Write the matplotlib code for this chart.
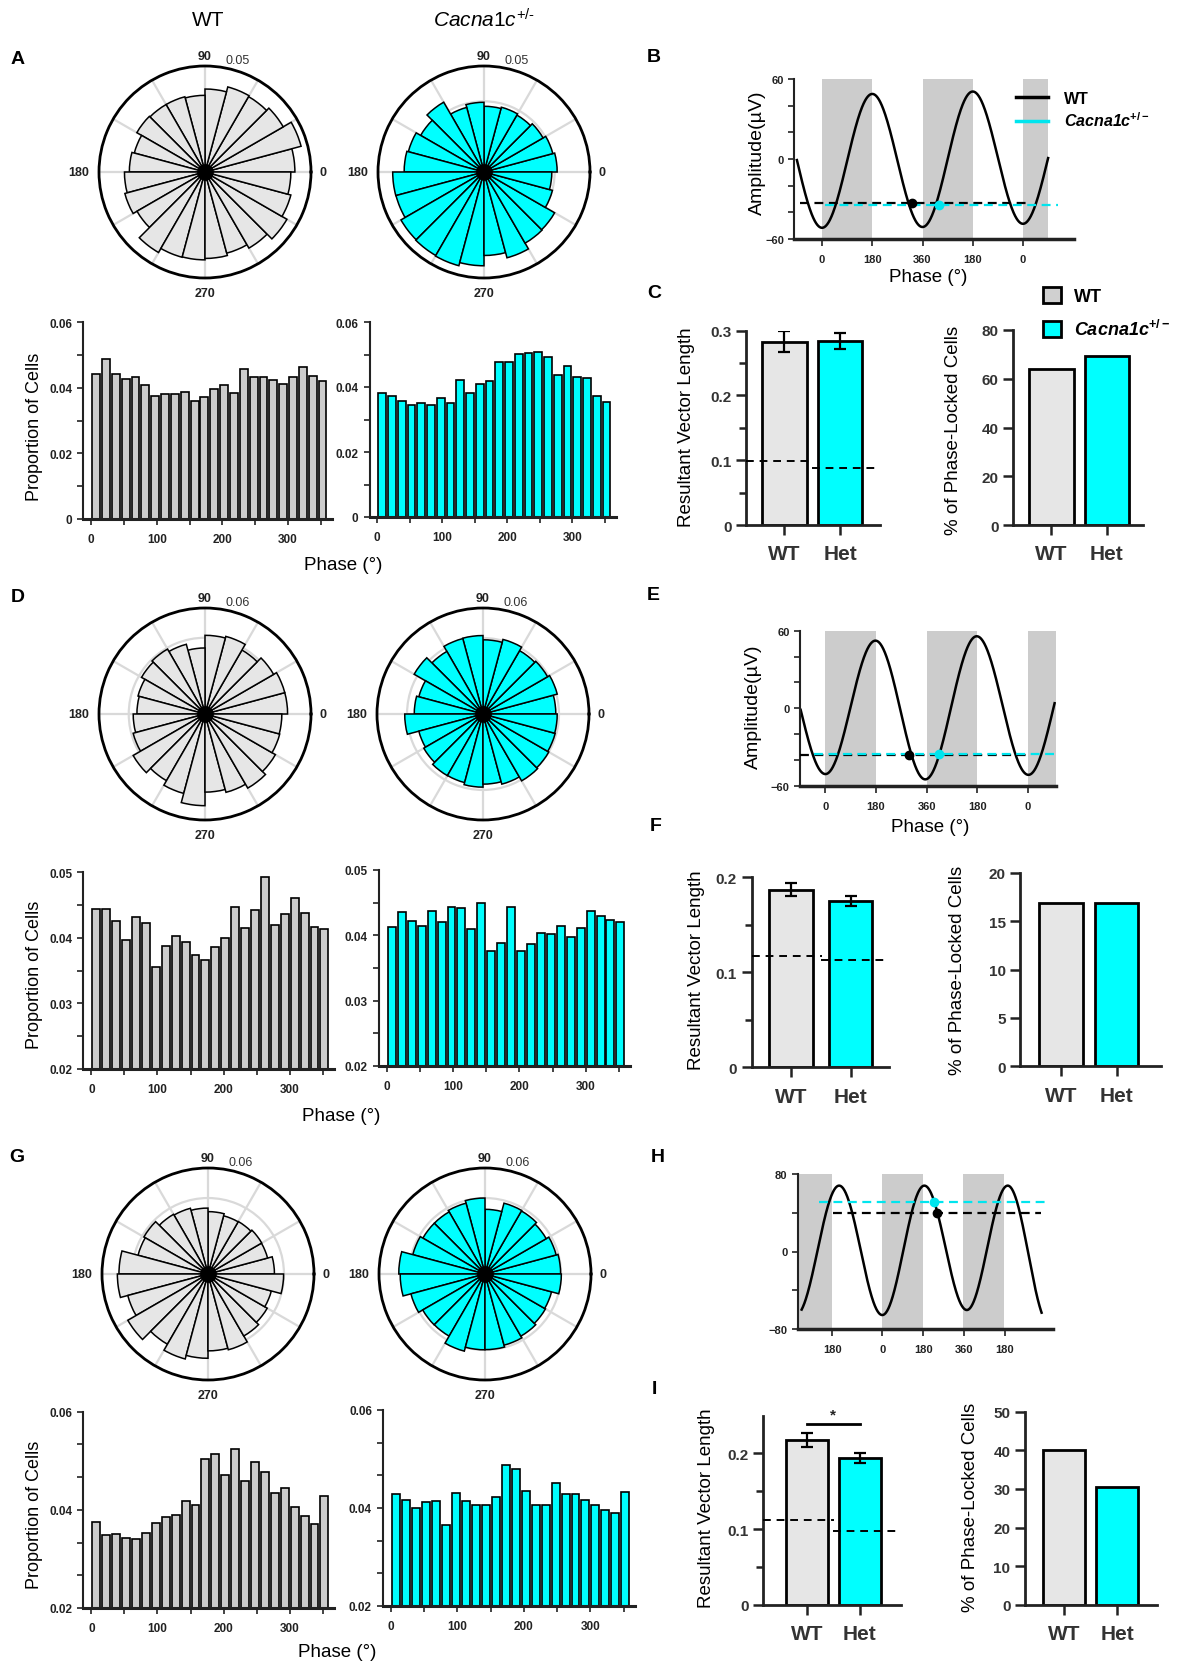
import numpy as np
import matplotlib
matplotlib.use('Agg')
import matplotlib.pyplot as plt
from matplotlib.ticker import FixedLocator, MultipleLocator, AutoMinorLocator
from matplotlib.lines import Line2D
from matplotlib.patches import Patch

plt.rcParams['font.family'] = ['Liberation Sans', 'DejaVu Sans']
plt.rcParams['mathtext.fontset'] = 'custom'
plt.rcParams['mathtext.rm'] = 'Liberation Sans'
plt.rcParams['mathtext.it'] = 'Liberation Sans:italic'
plt.rcParams['mathtext.bf'] = 'Liberation Sans:bold'
plt.rcParams['mathtext.bfit'] = 'Liberation Sans:italic:bold'

# ---- data ----
bin_centers = np.arange(7.5, 360, 15)   # 24 phase bins of 15 deg

wt_a = [0.0441, 0.0488, 0.0443, 0.0427, 0.0432, 0.0407, 0.0376, 0.0382, 0.0382, 0.0386, 0.0359, 0.0371,
        0.0395, 0.0407, 0.0385, 0.0456, 0.0433, 0.0431, 0.0424, 0.0412, 0.0431, 0.0464, 0.0436, 0.0421]
het_a = [0.0383, 0.0373, 0.0357, 0.0344, 0.0351, 0.0344, 0.0365, 0.0350, 0.0422, 0.0383, 0.0410, 0.0418,
         0.0478, 0.0477, 0.0502, 0.0505, 0.0508, 0.0491, 0.0437, 0.0465, 0.0430, 0.0427, 0.0371, 0.0355]
wt_d = [0.0444, 0.0444, 0.0426, 0.0397, 0.0432, 0.0423, 0.0355, 0.0388, 0.0403, 0.0394, 0.0373, 0.0366,
        0.0386, 0.0400, 0.0446, 0.0414, 0.0442, 0.0493, 0.0420, 0.0436, 0.0460, 0.0437, 0.0416, 0.0413]
het_d = [0.0412, 0.0435, 0.0422, 0.0414, 0.0437, 0.0420, 0.0444, 0.0442, 0.0409, 0.0450, 0.0376, 0.0389,
         0.0443, 0.0376, 0.0387, 0.0403, 0.0402, 0.0414, 0.0397, 0.0411, 0.0437, 0.0430, 0.0423, 0.0420]
wt_g = [0.0376, 0.0349, 0.0351, 0.0343, 0.0341, 0.0353, 0.0373, 0.0385, 0.0390, 0.0419, 0.0410, 0.0504,
        0.0513, 0.0470, 0.0524, 0.0459, 0.0498, 0.0477, 0.0435, 0.0444, 0.0405, 0.0387, 0.0371, 0.0428]
het_g = [0.0428, 0.0417, 0.0400, 0.0412, 0.0415, 0.0366, 0.0430, 0.0415, 0.0406, 0.0406, 0.0423, 0.0488,
         0.0480, 0.0434, 0.0407, 0.0406, 0.0452, 0.0429, 0.0428, 0.0417, 0.0406, 0.0395, 0.0390, 0.0432]

# schematic theta waves: extrema (phase, amplitude)
b_ext_x = [-180, 0, 180, 360, 540, 720, 900]
b_ext_y = [50, -51.6, 48.8, -51, 50.6, -48.6, 50]
e_ext_x = [-180, 0, 178, 355, 538, 722, 900]
e_ext_y = [52, -51, 52.3, -55.1, 55.7, -51.6, 52]
h_ext_x = [-380, -190, 0, 185, 372, 552, 735]
h_ext_y = [-65.6, 68, -65.6, 68, -60.4, 68, -75]

# mean phase lines (level, start, end) and dots (phase, level)
b_wt_line, b_het_line = (-33, -80, 730), (-34.5, 10, 845)
b_wt_dot, b_het_dot = (322, -33), (420, -34.5)
e_wt_line, e_het_line = (-36, -90, 720), (-35.5, -40, 820)
e_wt_dot, e_het_dot = (299, -36), (403, -35.5)
h_wt_line, h_het_line = (39.7, -217, 697), (50.8, -277, 732)
h_wt_dot, h_het_dot = (239, 39.7), (227, 50.8)

groups = ['WT', 'Het']
c_rvl, c_rvl_err, c_rvl_thr = [0.283, 0.284], [0.016, 0.013], [0.0983, 0.088]
c_pct = [64.0, 69.5]
f_rvl, f_rvl_err, f_rvl_thr = [0.187, 0.175], [0.007, 0.0056], [0.1175, 0.113]
f_pct = [16.9, 16.86]
i_rvl, i_rvl_err, i_rvl_thr = [0.2176, 0.1934], [0.0097, 0.0066], [0.1123, 0.0978]
i_pct = [40.2, 30.5]

WT_POLAR = '#e6e6e6'
WT_HIST = '#cccccc'
HET = '#00ffff'
HET_LINE = '#00e5ee'
SHADE = '#cccccc'
TXT = '#222222'

W, H = 1178, 1665
fig = plt.figure(figsize=(W / 100, H / 100), dpi=100)


def px_axes(l, t, r, b, **kw):
    return fig.add_axes([l / W, 1 - b / H, (r - l) / W, (b - t) / H], **kw)


def ftext(x, y, s, **kw):
    fig.text(x / W, 1 - y / H, s, **kw)


def style_cart(ax, lw_left=1.5, lw_bottom=2.2):
    for s in ['top', 'right']:
        ax.spines[s].set_visible(False)
    ax.spines['left'].set_linewidth(lw_left)
    ax.spines['bottom'].set_linewidth(lw_bottom)
    ax.spines['left'].set_color(TXT)
    ax.spines['bottom'].set_color(TXT)


def polar(cx, cy, vals, color, rmax, ring, rlabel):
    R = 106
    ax = px_axes(cx - R, cy - R, cx + R, cy + R, projection='polar')
    ax.set_axisbelow(True)
    ax.bar(np.deg2rad(bin_centers), vals, width=np.deg2rad(15), color=color,
           edgecolor='black', linewidth=1.1, zorder=2)
    ax.plot(0, 0, 'o', color='black', ms=11, zorder=3)
    ax.set_ylim(0, rmax)
    ax.set_yticks([ring])
    ax.set_yticklabels([])
    ax.set_xticks(np.deg2rad(np.arange(0, 360, 30)))
    ax.set_xticklabels([])
    ax.grid(True, color='#d9d9d9', lw=1.6)
    ax.spines['polar'].set_linewidth(2)
    ax.spines['polar'].set_color('black')
    for txt, ang, rr in [('90', 90, 1.095), ('180', 180, 1.19), ('0', 0, 1.11), ('270', 270, 1.14)]:
        ax.text(np.deg2rad(ang), rmax * rr, txt, ha='center', va='center',
                fontsize=9, fontweight='bold', color=TXT)
    ax.text(np.deg2rad(73.5), rmax * 1.10, rlabel, ha='center', va='center',
            fontsize=9, color='#333333')


def hist(l, t, r, b, vals, color, ylim, yticks, ylabels, nminor):
    ax = px_axes(l, t, r, b)
    ax.bar(bin_centers, vals, width=12, color=color, edgecolor='black', linewidth=1.2)
    ax.set_xlim(-12, 367)
    ax.set_ylim(*ylim)
    ax.set_yticks(yticks)
    ax.set_yticklabels(ylabels)
    ax.yaxis.set_minor_locator(AutoMinorLocator(nminor))
    ax.set_xticks([0, 100, 200, 300])
    ax.xaxis.set_minor_locator(MultipleLocator(50))
    style_cart(ax)
    ax.tick_params(which='both', direction='out', width=1.2, color=TXT, length=4)
    ax.tick_params(axis='y', pad=4)
    ax.tick_params(axis='x', pad=6)
    for lab in ax.get_xticklabels() + ax.get_yticklabels():
        lab.set_fontsize(8.5)
        lab.set_fontweight('bold')
        lab.set_color(TXT)
    return ax


def wave(ext_x, ext_y, x0, x1):
    xs = np.linspace(x0, x1, 800)
    ys = np.zeros_like(xs)
    for i in range(len(ext_x) - 1):
        m = (xs >= ext_x[i]) & (xs <= ext_x[i + 1])
        tt = (xs[m] - ext_x[i]) / (ext_x[i + 1] - ext_x[i])
        ys[m] = ext_y[i] + (ext_y[i + 1] - ext_y[i]) * (1 - np.cos(np.pi * tt)) / 2
    return xs, ys


def wave_panel(box, xlim, ylim, shades, ext_x, ext_y, span, wt_line, het_line,
               wt_dot, het_dot, xticks, xlabels, ymajor, yminor):
    ax = px_axes(*box)
    for a, b_ in shades:
        ax.axvspan(a, b_, color=SHADE, lw=0, zorder=0)
    xs, ys = wave(ext_x, ext_y, *span)
    ax.plot(xs, ys, color='black', lw=1.8, zorder=2)
    ax.plot([wt_line[1], wt_line[2]], [wt_line[0]] * 2, color='black', lw=1.6,
            dashes=(4, 2.5), zorder=3)
    ax.plot([het_line[1], het_line[2]], [het_line[0]] * 2, color=HET_LINE, lw=1.6,
            dashes=(4, 2.5), zorder=3, clip_on=False)
    ax.plot(*wt_dot, 'o', color='black', ms=6, zorder=4)
    ax.plot(*het_dot, 'o', color=HET_LINE, ms=6, zorder=4)
    ax.set_xlim(*xlim)
    ax.set_ylim(*ylim)
    ax.set_xticks(xticks)
    ax.set_xticklabels(xlabels)
    ax.set_yticks(ymajor)
    ax.yaxis.set_minor_locator(FixedLocator(yminor))
    style_cart(ax, 1.5, 2.5)
    ax.tick_params(which='both', direction='out', width=1.2, color=TXT, length=4)
    ax.tick_params(axis='x', length=5, pad=6)
    for lab in ax.get_xticklabels() + ax.get_yticklabels():
        lab.set_fontsize(8)
        lab.set_fontweight('bold')
        lab.set_color(TXT)
    return ax


def bar_panel(box, vals, width, xlim, ylim, yticks, ylabels, yminor=None,
              errs=None, thr=None, sig=None):
    ax = px_axes(*box)
    ax.bar([0, 1], vals, width=width, color=[WT_POLAR, HET], edgecolor='black',
           linewidth=2, zorder=2)
    if errs is not None:
        ax.errorbar([0, 1], vals, yerr=errs, fmt='none', ecolor='black', elinewidth=1.6,
                    capsize=4, capthick=1.6, zorder=3)
    if thr is not None:
        ax.plot([xlim[0], 0.52], [thr[0]] * 2, color='black', lw=1.4, dashes=(4, 3), zorder=4)
        ax.plot([0.5, xlim[1]], [thr[1]] * 2, color='black', lw=1.4, dashes=(4, 3), zorder=4)
    if sig is not None:
        ax.plot([0, 1], [sig, sig], color='black', lw=2, clip_on=False)
        ax.text(0.5, sig + 0.003, '*', ha='center', va='bottom', fontsize=11,
                fontweight='bold', color=TXT)
    ax.set_xlim(*xlim)
    ax.set_ylim(*ylim)
    ax.set_xticks([0, 1])
    ax.set_xticklabels(groups)
    ax.set_yticks(yticks)
    ax.set_yticklabels(ylabels)
    if yminor is not None:
        ax.yaxis.set_minor_locator(FixedLocator(yminor))
    style_cart(ax, 2, 2)
    ax.tick_params(which='major', direction='out', width=1.8, color=TXT, length=7)
    ax.tick_params(which='minor', direction='out', width=1.8, color=TXT, length=5)
    ax.tick_params(axis='x', pad=7)
    for lab in ax.get_yticklabels():
        lab.set_fontsize(11)
        lab.set_fontweight('bold')
        lab.set_color('#333333')
    for lab in ax.get_xticklabels():
        lab.set_fontsize(15)
        lab.set_fontweight('bold')
        lab.set_color('#333333')
    return ax


# ---- headers and panel letters ----
ftext(208, 20, 'WT', fontsize=15, ha='center', va='center')
ftext(484, 20, r'$\mathit{Cacna1c}^{\text{+/-}}$', fontsize=15, ha='center', va='center')
for letter, x, y in [('A', 18, 60), ('B', 654, 58), ('C', 654, 293), ('D', 18, 598),
                     ('E', 653, 595), ('F', 656, 827), ('G', 17, 1158), ('H', 658, 1158),
                     ('I', 654, 1390)]:
    ftext(x, y, letter, fontsize=14, fontweight='bold', ha='center', va='center')

# ---- polar plots ----
polar(205, 173, wt_a, WT_POLAR, 0.052, 0.035, '0.05')
polar(484, 173, het_a, HET, 0.0555, 0.037, '0.05')
polar(205, 715, wt_d, WT_POLAR, 0.057, 0.041, '0.06')
polar(483, 715, het_d, HET, 0.06, 0.043, '0.06')
polar(208, 1275, wt_g, WT_POLAR, 0.06, 0.043, '0.06')
polar(485, 1275, het_g, HET, 0.06, 0.043, '0.06')

# ---- phase histograms ----
a_ticks, a_lab = [0, 0.02, 0.04, 0.06], ['0', '0.02', '0.04', '0.06']
hist(83.4, 323, 332, 520, wt_a, WT_HIST, (0, 0.06), a_ticks, a_lab, 2)
hist(369.5, 323, 616, 518, het_a, HET, (0, 0.06), a_ticks, a_lab, 2)
d_ticks, d_lab = [0.02, 0.03, 0.04, 0.05], ['0.02', '0.03', '0.04', '0.05']
hist(83.4, 873, 334, 1070, wt_d, WT_HIST, (0.02, 0.05), d_ticks, d_lab, 2)
hist(379, 871, 630, 1067, het_d, HET, (0.02, 0.05), d_ticks, d_lab, 2)
g_ticks, g_lab = [0.02, 0.04, 0.06], ['0.02', '0.04', '0.06']
hist(83.4, 1412.7, 334, 1609, wt_g, WT_HIST, (0.02, 0.06), g_ticks, g_lab, 3)
hist(383, 1411, 635, 1607, het_g, HET, (0.02, 0.06), g_ticks, g_lab, 3)

for y in [427, 975, 1515]:
    ftext(35, y, 'Proportion of Cells', fontsize=13, rotation=90, ha='center', va='center')
for x, y in [(343, 565), (341, 1117), (337, 1653)]:
    ftext(x, y, 'Phase (°)', fontsize=13.5, ha='center', va='center')

# ---- waveform panels ----
ph_ticks = [0, 180, 360, 540, 720]
ph_labels = ['0', '180', '360', '180', '0']
wave_panel((794.4, 80, 1073.8, 240), (-99, 902), (-60, 60),
           [(0, 180), (360, 540), (720, 810)], b_ext_x, b_ext_y, (-90, 810),
           b_wt_line, b_het_line, b_wt_dot, b_het_dot, ph_ticks, ph_labels,
           [-60, 0, 60], [-40, -20, 20, 40])
handles = [Line2D([], [], color='black', lw=2.5), Line2D([], [], color=HET_LINE, lw=2.5)]
fig.legend(handles, ['WT', r'$\mathbfit{Cacna1c}^{\mathbf{+/-}}$'], loc='upper left',
           bbox_to_anchor=(1016 / W, 1 - 92 / H), frameon=False, borderpad=0,
           borderaxespad=0, handlelength=2.0, handletextpad=1.0, labelspacing=0.3,
           prop={'weight': 'bold', 'size': 11.5})
ftext(757, 153, 'Amplitude(µV)', fontsize=14, rotation=90, ha='center', va='center')
ftext(928, 278, 'Phase (°)', fontsize=13.5, ha='center', va='center')

wave_panel((800, 631.7, 1056, 786.7), (-90.4, 820), (-60, 60),
           [(0, 180), (360, 540), (720, 820)], e_ext_x, e_ext_y, (-88, 815),
           e_wt_line, e_het_line, e_wt_dot, e_het_dot, ph_ticks, ph_labels,
           [-60, 0, 60], [-40, -20, 20, 40])
ftext(753.5, 707, 'Amplitude(µV)', fontsize=14, rotation=90, ha='center', va='center')
ftext(930, 828, 'Phase (°)', fontsize=13.5, ha='center', va='center')

wave_panel((798, 1175, 1052.5, 1330), (-371, 749), (-80, 80),
           [(-371, -220), (0, 180), (357, 537)], h_ext_x, h_ext_y, (-355, 701),
           h_wt_line, h_het_line, h_wt_dot, h_het_dot, [-220, 0, 180, 360, 540],
           ['180', '0', '180', '360', '180'], [-80, 0, 80], [-40, 40])

# ---- bar panels ----
bar_panel((746.4, 331.7, 879.8, 526), c_rvl, 0.8, (-0.68, 1.71), (0, 0.3),
          [0, 0.1, 0.2, 0.3], ['0', '0.1', '0.2', '0.3'], [0.05, 0.15, 0.25],
          errs=c_rvl_err, thr=c_rvl_thr)
bar_panel((1013, 331, 1142.5, 526), c_pct, 0.8, (-0.69, 1.64), (0, 80),
          [0, 20, 40, 60, 80], ['0', '20', '40', '60', '80'])
bar_panel((751.7, 878.3, 888.8, 1068.3), f_rvl, 0.73, (-0.66, 1.64), (0, 0.2),
          [0, 0.1, 0.2], ['0', '0.1', '0.2'], [0.05, 0.15],
          errs=f_rvl_err, thr=f_rvl_thr)
bar_panel((1020.4, 874, 1161, 1067.3), f_pct, 0.78, (-0.73, 1.8), (0, 20),
          [0, 5, 10, 15, 20], ['0', '5', '10', '15', '20'])
bar_panel((763, 1416.5, 900.5, 1605.7), i_rvl, 0.8, (-0.83, 1.77), (0, 0.25),
          [0, 0.1, 0.2], ['0', '0.1', '0.2'], [0.05, 0.15],
          errs=i_rvl_err, thr=i_rvl_thr, sig=0.2388)
bar_panel((1025, 1412.7, 1156.7, 1605.7), i_pct, 0.79, (-0.74, 1.75), (0, 50),
          [0, 10, 20, 30, 40, 50], ['0', '10', '20', '30', '40', '50'])

for x, y in [(686, 427), (696.5, 970), (707, 1508)]:
    ftext(x, y, 'Resultant Vector Length', fontsize=13.5, rotation=90, ha='center', va='center')
for x, y in [(953, 430), (958, 970), (970.6, 1507)]:
    ftext(x, y, '% of Phase-Locked Cells', fontsize=13.5, rotation=90, ha='center', va='center')

patches = [Patch(facecolor='#d0d0d0', edgecolor='black', lw=2),
           Patch(facecolor=HET, edgecolor='black', lw=2)]
fig.legend(patches, ['WT', r'$\mathbfit{Cacna1c}^{\mathbf{+/-}}$'], loc='upper left',
           bbox_to_anchor=(1043 / W, 1 - 288 / H), frameon=False, borderpad=0,
           borderaxespad=0, handlelength=1.0, handleheight=1.0, handletextpad=0.7,
           labelspacing=0.75, prop={'weight': 'bold', 'size': 13})

fig.savefig('out.png', dpi=100)
